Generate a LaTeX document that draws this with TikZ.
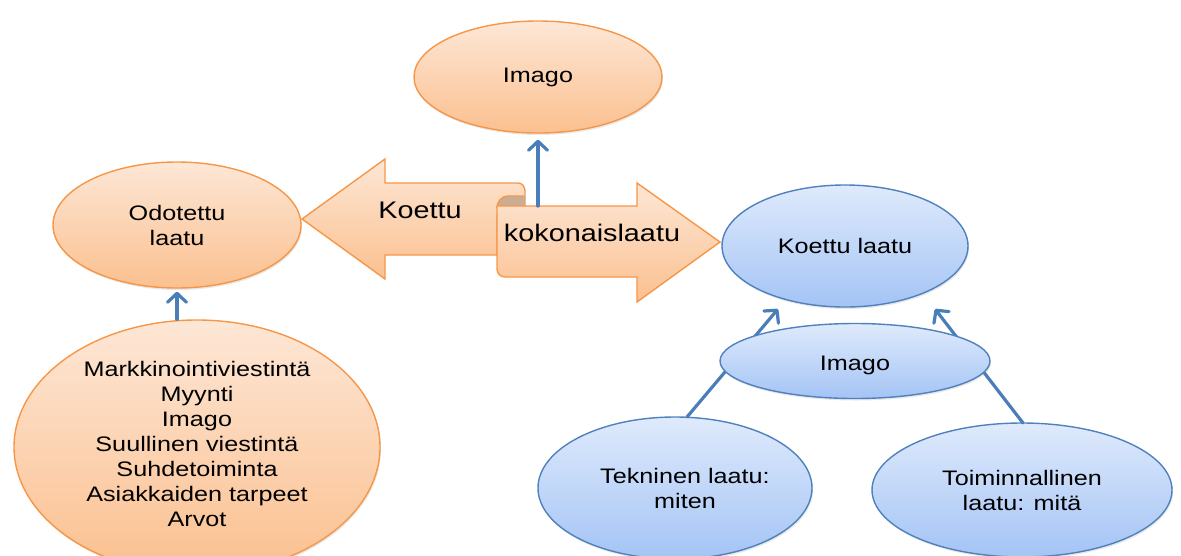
\documentclass[tikz,border=0pt]{standalone}
\usepackage{fontspec}
\setmainfont{Liberation Sans}[FakeStretch=1.2]
\usetikzlibrary{shapes.geometric,arrows.meta,shadows}
\definecolor{oline}{HTML}{F79646}
\definecolor{otop}{HTML}{FDE7D6}
\definecolor{obot}{HTML}{FBC08F}
\definecolor{bline}{HTML}{4F81BD}
\definecolor{btop}{HTML}{DFEAFC}
\definecolor{bbot}{HTML}{A4C4F5}
\definecolor{conncol}{HTML}{4A7EBB}
\definecolor{curlcol}{HTML}{C9AD95}
\begin{document}
\begin{tikzpicture}[x=1pt,y=-1pt,
  oell/.style={ellipse, draw=oline, line width=1.4pt, top color=otop, bottom color=obot,
    inner sep=0pt, align=center, font=\fontsize{21}{25}\selectfont,
    drop shadow={opacity=0.18, shadow xshift=1pt, shadow yshift=-2pt}},
  bell/.style={ellipse, draw=bline, line width=1.4pt, top color=btop, bottom color=bbot,
    inner sep=0pt, align=center, font=\fontsize{21}{25}\selectfont,
    drop shadow={opacity=0.18, shadow xshift=1pt, shadow yshift=-2pt}},
  conn/.style={draw=conncol, line width=3.2pt, line cap=round,
    -{Straight Barb[length=9pt,width=19pt,round]}},
  oarrow/.style={draw=oline, line width=1.4pt, top color=otop, bottom color=obot, line join=miter},
  biglbl/.style={font=\fontsize{24}{28}\selectfont, inner sep=0pt}
]
\useasboundingbox (0,0) rectangle (1181,555);
\clip (0,0) rectangle (1181,555);

% orange ellipses
\node[oell, minimum width=248pt, minimum height=112pt] (imagoT) at (538,77) {Imago};
\node[oell, minimum width=248pt, minimum height=126pt] (odo) at (177,225) {Odotettu\\laatu};
\node[oell, minimum width=366pt, minimum height=254pt] (big) at (197,447)
  {Markkinointiviestintä\\Myynti\\Imago\\Suullinen viestintä\\Suhdetoiminta\\Asiakkaiden tarpeet\\Arvot\rule[-6pt]{0pt}{6pt}};

% blue ellipses
\node[bell, minimum width=246pt, minimum height=122pt] (koettu) at (845,246) {Koettu laatu};
\node[bell, minimum width=274pt, minimum height=142pt] (tek) at (675,488)
  {\hspace*{20pt}Tekninen laatu:\\\hspace*{20pt}miten};
\node[bell, minimum width=300pt, minimum height=134pt] (toim) at (1022,490) {Toiminnallinen\\laatu: mitä};

% left arrow (Koettu)
\path[oarrow] (302,219) -- (385,159) -- (385,183) -- (518,183) to[out=0,in=90] (525,191)
  -- (525,215) -- (497,215) -- (497,255) -- (385,255) -- (385,279) -- cycle;
% curl back side
\fill[curlcol] (497,207) to[out=90,in=180] (508,196) -- (525,196) -- (525,206) -- (497,206) -- cycle;
\draw[oline, line width=1.4pt] (497,208) to[out=90,in=180] (508,196) -- (524,196);
% right arrow (kokonaislaatu)
\path[oarrow] (497,206) -- (637,206) -- (637,183) -- (720,242) -- (637,302) -- (637,277)
  -- (505,277) to[out=180,in=-90] (497,269) -- cycle;

\node[biglbl] (lblK) at (420,210) {Koettu};
\node[biglbl] (lblKok) at (592,233) {kokonaislaatu};

% connectors
\coordinate (kokTop) at (538,206);
\draw[conn, shorten >=6pt] (kokTop) -- (imagoT.south);
\draw[conn, shorten >=3pt] (odo.south |- big.north) -- (odo.south);

\coordinate (tekTop) at (687,417);
\coordinate (tekTip) at (778,309);
\coordinate (toimTop) at (1023,423);
\coordinate (toimTip) at (935,309);
\draw[conn] (tekTop) -- (tekTip);
\draw[conn] (toimTop) -- (toimTip);

\node[bell, minimum width=270pt, minimum height=75pt] (imagoB) at (855,361) {\rule{0pt}{23pt}Imago};
\end{tikzpicture}
\end{document}
